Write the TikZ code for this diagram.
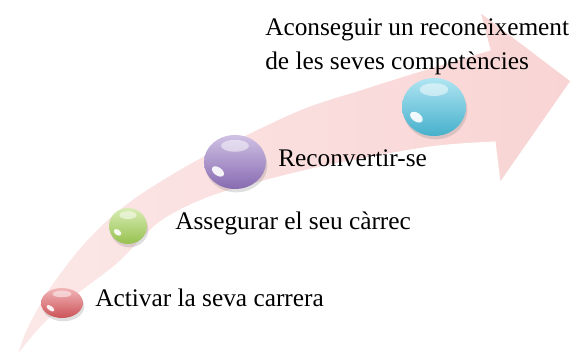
\documentclass[tikz,border=0pt]{standalone}
\usepackage{fontspec}
\setmainfont{Liberation Serif}
\usetikzlibrary{shapes.geometric,shadows,positioning}
\definecolor{rosa}{RGB}{249,212,212}
\definecolor{vermell}{RGB}{226,92,98}
\definecolor{verd}{RGB}{168,214,88}
\definecolor{lila}{RGB}{150,118,196}
\definecolor{blau}{RGB}{78,196,226}

\begin{document}
\begin{tikzpicture}[x=0.75pt,y=-0.75pt,
        bola/.style={ellipse,inner sep=0pt,draw=none,
            drop shadow={shadow xshift=1pt,shadow yshift=-2.5pt,opacity=.25}},
        etiqueta/.style={anchor=base west,inner sep=0pt,font=\fontsize{19}{25.5}\selectfont}]
    \useasboundingbox (0,0) rectangle (586,356);
    % fletxa corba del fons
    \shade[left color=rosa!55,right color=rosa,draw=white,line width=0.8pt]
        plot[smooth] coordinates {(17,356) (26,330) (48,290) (78,250) (107,220) (140,194) (200,158) (297,111) (363,89) (430,68) (490,50)}
        -- (480,12) -- (571,81) -- (500,183) -- (495,142)
        -- plot[smooth] coordinates {(495,142) (430,147) (330,165) (260,182) (207,198) (160,222) (117,264) (70,300) (40,328) (17,356)}
        -- cycle;
    % boles
    \foreach \n/\x/\y/\rx/\ry/\c in {rv/62/303/21/15/vermell, vd/128/226/19/18/verd, lil/235/162/31/27/lila, bl/434/107/32/29/blau}{
        \node[bola,minimum width={1.5*\rx pt},minimum height={1.5*\ry pt},
            top color=\c!45!white,bottom color=\c!90!black] (\n) at (\x,\y) {};
        \fill[white,opacity=.5] (\x,{\y-0.6*\ry}) ellipse ({0.45*\rx} and {0.22*\ry});
        \fill[white,opacity=.9,shift={({\x-0.55*\rx},{\y+0.35*\ry})},rotate=-35] (0,0) ellipse ({0.22*\rx} and {0.15*\ry});
    }
    % textos
    \node[etiqueta] (t1) at (95,306) {Activar la seva carrera};
    \node[etiqueta] (t2) at (175,230) {Assegurar el seu càrrec};
    \node[etiqueta] (t3) at (278,167) {Reconvertir-se};
    \node[etiqueta,align=left] (t4) at (265,70) {Aconseguir un reconeixement\\de les seves competències};
\end{tikzpicture}
\end{document}
